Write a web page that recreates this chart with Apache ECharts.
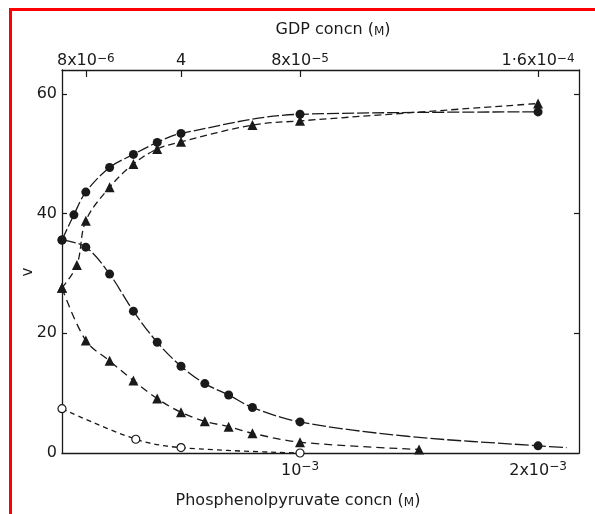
<!DOCTYPE html>
<html>
<head>
<meta charset="utf-8">
<script src="https://cdn.jsdelivr.net/npm/echarts@6/dist/echarts.min.js"></script>
<style>html,body{margin:0;padding:0;background:#fff}#c{width:595px;height:514px}</style>
</head>
<body>
<div id="c"></div>
<script>
// Bottom axis: phosphoenolpyruvate concentration, in units of 10^-3 M
// Top axis: GDP concentration, in units of 10^-6 M
var pepTicks = [1, 2];
var pepTickLabels = ['10{s|−3}', '2x10{s|−3}'];
var gdpTicks = [8, 40, 80, 160];
var gdpTickLabels = ['8x10{s|−6}', '4', '8x10{s|−5}', '1·6x10{s|−4}'];
var vTicks = [0, 20, 40, 60];

// Rising curves (vs GDP, top axis)
var gdpCircleX = [0, 4, 8, 16, 24, 32, 40, 80, 160];
var gdpCircleV = [35.6, 39.8, 43.6, 47.7, 49.9, 51.9, 53.4, 56.6, 57.0];
var gdpTriX = [0, 5, 8, 16, 24, 32, 40, 64, 80, 160];
var gdpTriV = [27.6, 31.4, 38.8, 44.4, 48.3, 50.8, 52.0, 54.8, 55.5, 58.4];

// Falling curves (vs phosphoenolpyruvate, bottom axis)
var pepCircleX = [0, 0.1, 0.2, 0.3, 0.4, 0.5, 0.6, 0.7, 0.8, 1.0, 2.0];
var pepCircleV = [35.6, 34.4, 29.9, 23.7, 18.5, 14.5, 11.6, 9.7, 7.6, 5.2, 1.2];
var pepTriX = [0, 0.1, 0.2, 0.3, 0.4, 0.5, 0.6, 0.7, 0.8, 1.0, 1.5];
var pepTriV = [27.6, 18.8, 15.4, 12.1, 9.1, 6.8, 5.3, 4.4, 3.3, 1.8, 0.6];
var pepOpenX = [0, 0.31, 0.5, 1.0];
var pepOpenV = [7.4, 2.3, 0.9, 0.0];

var pepCircleCurveX = [1.45, 2.12];
var pepCircleCurveV = [2.8, 0.9];

function pairs(xs, ys) { return xs.map(function (x, i) { return [x, ys[i]]; }); }
function curveOnly(xs, ys) { return xs.map(function (x, i) { return { value: [x, ys[i]], symbol: 'none' }; }); }
function byX(a, b) { var ax = a.value ? a.value[0] : a[0]; var bx = b.value ? b.value[0] : b[0]; return ax - bx; }

var FONT = 'DejaVu Sans';
var INK = '#1a1a1a';
var richTick = {
  s: { fontSize: 12, fontFamily: FONT, color: INK, verticalAlign: 'top', lineHeight: 12 }
};

function lineSeries(name, xIdx, data, symbol, dash, filled, size) {
  return {
    name: name, type: 'line', xAxisIndex: xIdx, yAxisIndex: 0,
    data: data, smooth: 0.35, symbol: symbol, symbolSize: size,
    showSymbol: true,
    lineStyle: { color: INK, width: 1.3, type: dash },
    itemStyle: { color: filled ? INK : '#fff', borderColor: INK, borderWidth: filled ? 0 : 1.2 },
    z: filled ? 3 : 4
  };
}

var axisLineStyle = { show: true, onZero: false, lineStyle: { color: INK, width: 1.3 } };

var chart = echarts.init(document.getElementById('c'), null, { renderer: 'canvas' });
chart.setOption({
  animation: false,
  backgroundColor: '#fff',
  grid: { left: 62, right: 16, top: 70, bottom: 61, containLabel: false },
  xAxis: [
    {
      type: 'value', position: 'bottom', min: 0, max: 2.172,
      name: 'Phosphenolpyruvate concn ({m|M})', nameLocation: 'middle', nameGap: 40,
      nameMoveOverlap: false,
      nameTextStyle: { fontFamily: FONT, fontSize: 16, color: INK, padding: [0, 45, 0, 0],
        rich: { m: { fontFamily: FONT, fontSize: 12, color: INK, padding: [3, 0, 0, 0] } } },
      axisLine: axisLineStyle,
      axisTick: { show: false },
      splitLine: { show: false },
      axisLabel: {
        customValues: pepTicks, margin: 8,
        fontFamily: FONT, fontSize: 16, color: INK, lineHeight: 20,
        formatter: function (v) { var i = pepTicks.indexOf(v); return i >= 0 ? pepTickLabels[i] : ''; },
        rich: richTick
      }
    },
    {
      type: 'value', position: 'top', min: 0, max: 173.76,
      name: 'GDP concn ({m|M})', nameLocation: 'middle', nameGap: 32,
      nameMoveOverlap: false,
      nameTextStyle: { fontFamily: FONT, fontSize: 16, color: INK, padding: [0, 0, 0, 25],
        rich: { m: { fontFamily: FONT, fontSize: 12, color: INK, padding: [3, 0, 0, 0] } } },
      axisLine: axisLineStyle,
      axisTick: { show: true, inside: true, length: 7, customValues: gdpTicks, lineStyle: { color: INK, width: 1.2 } },
      splitLine: { show: false },
      axisLabel: {
        customValues: gdpTicks, margin: 1,
        fontFamily: FONT, fontSize: 16, color: INK, lineHeight: 16,
        formatter: function (v) { var i = gdpTicks.indexOf(v); return i >= 0 ? gdpTickLabels[i] : ''; },
        rich: richTick
      }
    }
  ],
  yAxis: [
    {
      type: 'value', position: 'left', min: 0, max: 64,
      name: 'v', nameLocation: 'middle', nameRotate: 90, nameGap: 26,
      nameMoveOverlap: false,
      nameTextStyle: { fontFamily: FONT, fontSize: 15, color: INK, padding: [0, 21, 0, 0] },
      axisLine: axisLineStyle,
      axisTick: { show: true, inside: true, length: 5, customValues: [20, 40, 60], lineStyle: { color: INK, width: 1.2 } },
      splitLine: { show: false },
      axisLabel: { customValues: vTicks, margin: 5, fontFamily: FONT, fontSize: 16, color: INK }
    },
    {
      type: 'value', position: 'right', min: 0, max: 64,
      axisLine: axisLineStyle,
      axisTick: { show: true, inside: true, length: 5, customValues: [20, 40, 60], lineStyle: { color: INK, width: 1.2 } },
      splitLine: { show: false },
      axisLabel: { show: false }
    }
  ],
  series: [
    lineSeries('GDP, filled circles', 1, pairs(gdpCircleX, gdpCircleV), 'circle', [12, 3], true, 9),
    lineSeries('GDP, triangles', 1, pairs(gdpTriX, gdpTriV), 'triangle', [7, 4], true, 10),
    lineSeries('PEP, filled circles', 0,
      pairs(pepCircleX, pepCircleV).concat(curveOnly(pepCircleCurveX, pepCircleCurveV)).sort(byX),
      'circle', [14, 3], true, 9),
    lineSeries('PEP, triangles', 0, pairs(pepTriX, pepTriV), 'triangle', [8, 5], true, 10),
    lineSeries('PEP, open circles', 0, pairs(pepOpenX, pepOpenV), 'circle', [5, 4], false, 8)
  ],
  graphic: [
    { type: 'rect', shape: { x: 9, y: 8, width: 586, height: 3 }, style: { fill: '#ff0000' }, silent: true },
    { type: 'rect', shape: { x: 9, y: 8, width: 3, height: 506 }, style: { fill: '#ff0000' }, silent: true }
  ]
});
</script>
</body>
</html>
